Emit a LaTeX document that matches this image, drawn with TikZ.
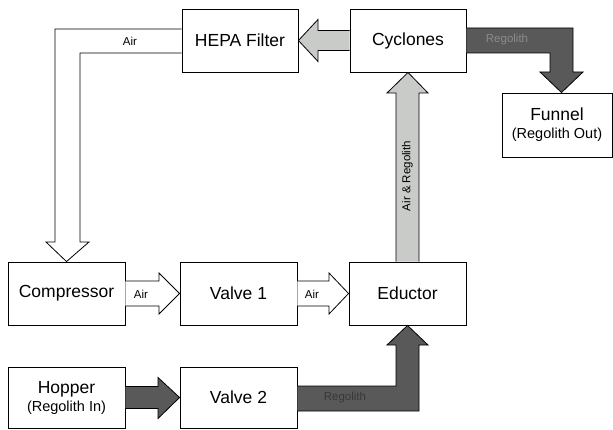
\documentclass[tikz,border=0pt]{standalone}
\usepackage{fontspec}
\setmainfont{Liberation Sans}
\usetikzlibrary{calc}
\definecolor{lightarr}{HTML}{C9CBC9}
\definecolor{darkarr}{HTML}{595959}
\definecolor{regtop}{HTML}{8C8C8C}
\definecolor{regbot}{HTML}{383838}
\begin{document}
\begin{tikzpicture}[x=1pt,y=-1pt,
  box/.style={draw=black,line width=0.9pt,fill=white,inner sep=0pt,align=center,
    font=\fontsize{17.5}{19}\selectfont},
  sub/.style={font=\fontsize{14.5}{16}\selectfont},
  lbl/.style={font=\fontsize{11.5}{13}\selectfont,inner sep=0pt},
  whitearr/.style={draw=black,line width=0.8pt,fill=white},
  grayarr/.style={draw=black,line width=0.8pt,fill=lightarr},
  darkarr/.style={draw=black,line width=0.8pt,fill=darkarr}]
\useasboundingbox (0,0) rectangle (613,430);
\fill[white] (0,0) rectangle (613,430);

% boxes
\node[box,minimum width=116pt,minimum height=63pt] (hepa) at (240,40.5) {HEPA Filter};
\node[box,minimum width=116pt,minimum height=63pt] (cyc) at (408,40.5) {Cyclones};
\node[box,minimum width=110pt,minimum height=64pt] (funnel) at (557,125) {Funnel\\[-1pt]{\fontsize{14.5}{16}\selectfont (Regolith Out)}};
\node[box,minimum width=117pt,minimum height=63pt] (comp) at (66.5,293.5) {Compressor};
\node[box,minimum width=117pt,minimum height=63pt] (v1) at (238.5,293.5) {Valve 1};
\node[box,minimum width=117pt,minimum height=63pt] (educ) at (407.5,293.5) {Eductor};
\node[box,minimum width=117pt,minimum height=61pt] (hopper) at (66.5,397.5) {Hopper\\[-1pt]{\fontsize{14.5}{16}\selectfont (Regolith In)}};
\node[box,minimum width=117pt,minimum height=61pt] (v2) at (238.5,397.5) {Valve 2};

% Cyclones -> HEPA (gray)
\draw[grayarr] ($(cyc.west)+(0,-10)$) -- (318,30.5) -- (318,19.5) -- (hepa.east)
  -- (318,61.5) -- (318,50.5) -- ($(cyc.west)+(0,10)$);

% Cyclones -> Funnel (dark L)
\draw[darkarr] (cyc.east |- 0,28) -- (573,28) -- (573,72) -- (583,72)
  -- ($(funnel.north)+(4.5,0)$) -- (540,72) -- (550,72) -- (550,53) -- (cyc.east |- 0,53);
\node[lbl,text=regtop] (lregtop) at (507,40) {Regolith};

% Eductor -> Cyclones (gray vertical)
\draw[grayarr] ($(educ.north)+(-11.5,0)$) -- (396,93) -- (387,93) -- (cyc.south)
  -- (428,93) -- (419,93) -- ($(educ.north)+(11.5,0)$);
\node[lbl,rotate=90] (lar) at (407.5,176) {Air \& Regolith};

% HEPA -> Compressor (white L)
\draw[whitearr] (hepa.west |- 0,29) -- (55,29) -- (55,242) -- (46,242) -- (comp.north)
  -- (89,242) -- (80,242) -- (80,53) -- (hepa.west |- 0,53);
\node[lbl] (lair0) at (130,41) {Air};

% Compressor -> Valve 1
\draw[whitearr] ($(comp.east)+(0,-12.5)$) -- (159,281) -- (159,273) -- (v1.west)
  -- (159,314) -- (159,306) -- ($(comp.east)+(0,12.5)$);
\node[lbl] (lair1) at (141,294) {Air};

% Valve 1 -> Eductor
\draw[whitearr] ($(v1.east)+(0,-12.5)$) -- (329,281) -- (329,273) -- (educ.west)
  -- (329,314) -- (329,306) -- ($(v1.east)+(0,12.5)$);
\node[lbl] (lair2) at (312,294) {Air};

% Hopper -> Valve 2 (dark)
\draw[darkarr] ($(hopper.east)+(0,-11)$) -- (158,386.5) -- (158,377.5) -- (v2.west)
  -- (158,418.5) -- (158,408.5) -- ($(hopper.east)+(0,11)$);

% Valve 2 -> Eductor (dark L)
\draw[darkarr] (v2.east |- 0,386) -- (396,386) -- (396,345) -- (387,345) -- (educ.south)
  -- (428,345) -- (419,345) -- (419,411) -- (v2.east |- 0,411);
\node[lbl,text=regbot] (lregbot) at (345,398) {Regolith};
\end{tikzpicture}
\end{document}
